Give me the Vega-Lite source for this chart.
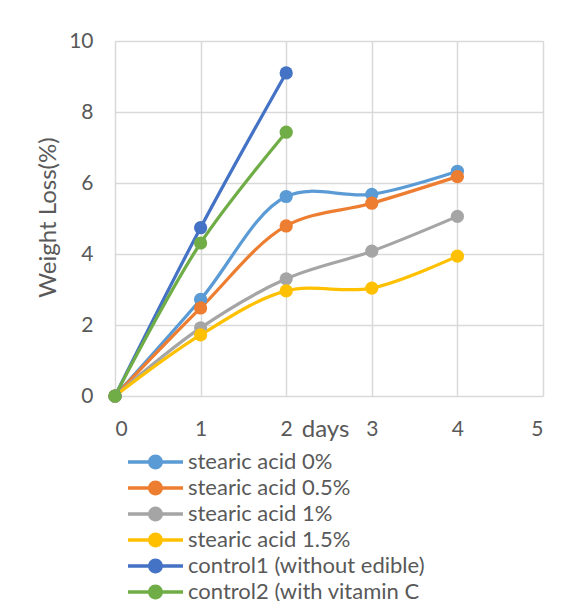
{
  "$schema": "https://vega.github.io/schema/vega-lite/v6.json",
  "width": 428,
  "height": 355,
  "autosize": "none",
  "padding": {"left": 115, "top": 41, "right": 25, "bottom": 205},
  "background": "white",
  "config": {
    "font": "Lato",
    "view": {"stroke": null},
    "axis": {"gridColor": "#d9d9d9", "gridWidth": 1.5, "domain": false, "ticks": false, "labelColor": "#595959", "titleColor": "#595959", "labelFont": "Lato", "titleFont": "Lato", "labelFontSize": 21, "titleFontSize": 24, "titleFontWeight": "normal"}
  },
  "data": {"values": [
    {"day": 0, "loss": 0, "series": "stearic acid 0%"},
    {"day": 1, "loss": 2.72, "series": "stearic acid 0%"},
    {"day": 2, "loss": 5.62, "series": "stearic acid 0%"},
    {"day": 3, "loss": 5.68, "series": "stearic acid 0%"},
    {"day": 4, "loss": 6.33, "series": "stearic acid 0%"},
    {"day": 0, "loss": 0, "series": "stearic acid 0.5%"},
    {"day": 1, "loss": 2.48, "series": "stearic acid 0.5%"},
    {"day": 2, "loss": 4.79, "series": "stearic acid 0.5%"},
    {"day": 3, "loss": 5.43, "series": "stearic acid 0.5%"},
    {"day": 4, "loss": 6.18, "series": "stearic acid 0.5%"},
    {"day": 0, "loss": 0, "series": "stearic acid 1%"},
    {"day": 1, "loss": 1.92, "series": "stearic acid 1%"},
    {"day": 2, "loss": 3.3, "series": "stearic acid 1%"},
    {"day": 3, "loss": 4.08, "series": "stearic acid 1%"},
    {"day": 4, "loss": 5.06, "series": "stearic acid 1%"},
    {"day": 0, "loss": 0, "series": "stearic acid 1.5%"},
    {"day": 1, "loss": 1.72, "series": "stearic acid 1.5%"},
    {"day": 2, "loss": 2.96, "series": "stearic acid 1.5%"},
    {"day": 3, "loss": 3.04, "series": "stearic acid 1.5%"},
    {"day": 4, "loss": 3.94, "series": "stearic acid 1.5%"},
    {"day": 0, "loss": 0, "series": "control1 (without edible)"},
    {"day": 1, "loss": 4.74, "series": "control1 (without edible)"},
    {"day": 2, "loss": 9.1, "series": "control1 (without edible)"},
    {"day": 0, "loss": 0, "series": "control2 (with vitamin C"},
    {"day": 1, "loss": 4.31, "series": "control2 (with vitamin C"},
    {"day": 2, "loss": 7.43, "series": "control2 (with vitamin C"}
  ]},
  "encoding": {
    "x": {"field": "day", "type": "quantitative", "scale": {"domain": [0, 5], "nice": false},
      "axis": {"values": [0, 1, 2, 3, 4, 5], "labelPadding": 22, "title": "days", "titleX": 210, "titleY": 40, "titleBaseline": "alphabetic", "titleAnchor": null, "titleAlign": "center"}},
    "y": {"field": "loss", "type": "quantitative", "scale": {"domain": [0, 10], "nice": false},
      "axis": {"values": [0, 2, 4, 6, 8, 10], "labelPadding": 22, "title": "Weight Loss(%)", "titleX": -60, "titleY": 176, "titleBaseline": "alphabetic", "titleAnchor": null, "titleAlign": "center", "titleAngle": -90}},
    "color": {"field": "series", "type": "nominal",
      "scale": {"domain": ["stearic acid 0%", "stearic acid 0.5%", "stearic acid 1%", "stearic acid 1.5%", "control1 (without edible)", "control2 (with vitamin C"],
        "range": ["#5B9BD5", "#ED7D31", "#A5A5A5", "#FFC000", "#4472C4", "#70AD47"]},
      "legend": {"title": null, "orient": "none", "legendX": 13, "legendY": 408, "direction": "vertical",
        "symbolType": "M-1,-0.06 L1,-0.06 L1,0.06 L-1,0.06 Z M0.27,0 A0.27,0.27 0 1,1 -0.27,0 A0.27,0.27 0 1,1 0.27,0 Z",
        "symbolSize": 3025, "symbolStrokeWidth": 0, "labelFontSize": 22, "labelColor": "#595959", "labelFont": "Lato", "labelOffset": 5, "rowPadding": 0, "clipHeight": 26, "labelLimit": 450,
        "encode": {"symbols": {"update": {"fill": {"scale": "color", "field": "value"}, "fillOpacity": {"value": 1}, "strokeWidth": {"value": 0}}}}}}
  },
  "layer": [
    {"mark": {"type": "line", "interpolate": "catmull-rom", "strokeWidth": 3.25}},
    {"mark": {"type": "point", "filled": true, "opacity": 1, "size": 175}}
  ]
}
